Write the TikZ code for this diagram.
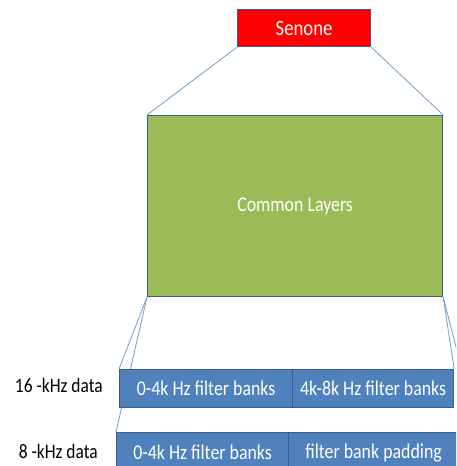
\documentclass[tikz,border=0pt]{standalone}
\usepackage{fontspec}
\setmainfont[FakeStretch=0.85]{Carlito}
\definecolor{senred}{HTML}{FF0000}
\definecolor{comgreen}{HTML}{9BBB59}
\definecolor{rowblue}{HTML}{4F81BD}
\definecolor{edgeblue}{HTML}{385D8A}
\definecolor{linkblue}{HTML}{6F9BD1}
\begin{document}
\begin{tikzpicture}[x=1pt,y=-1pt,
  boxstyle/.style={draw=edgeblue,line width=1.2pt,inner sep=0pt,text=white},
  link/.style={draw=linkblue,line width=0.8pt},
  rowtext/.style={font=\fontsize{21}{22}\selectfont},
  lbl/.style={font=\fontsize{20.5}{22}\selectfont,text=black,anchor=east,inner sep=0pt}]
\useasboundingbox (0,0) rectangle (456,466);
\clip (0,0) rectangle (456,466);
% boxes
\node[boxstyle,fill=senred,minimum width=133pt,minimum height=37pt,font=\fontsize{22}{22}\selectfont,anchor=north west] (sen) at (237,9) {Senone};
\node[boxstyle,fill=comgreen,minimum width=295pt,minimum height=181pt,font=\fontsize{21}{22}\selectfont,anchor=north west] (com) at (147,115) {\raisebox{-5pt}{Common Layers}};
% connectors from common layers (behind rows)
\coordinate (r8tr) at (478,432);
\draw[link] (sen.south west) -- (com.north west);
\draw[link] (sen.south east) -- (com.north east);
\draw[link] (com.south west) -- (116,432) coordinate (r8tl);
\draw[link] (com.south east) -- (r8tr);
% 16 kHz row
\node[boxstyle,fill=rowblue,minimum width=173pt,minimum height=38pt,rowtext,anchor=north west] (a1) at (119,369) {0-4k Hz filter banks};
\node[boxstyle,fill=rowblue,minimum width=161pt,minimum height=38pt,rowtext,anchor=north west] (a2) at (292,369) {4k-8k Hz filter banks};
\draw[link] (com.south west) -- (a1.north west);
\draw[link] (com.south east) -- (a2.north east);
% 8 kHz row
\node[boxstyle,fill=rowblue,minimum width=172pt,minimum height=40pt,rowtext,anchor=north west] (b1) at (116,432) {0-4k Hz filter banks};
\node[boxstyle,fill=rowblue,minimum width=170pt,minimum height=40pt,rowtext,anchor=north west] (b2) at (288,432) {filter bank padding};
% labels
\node[lbl] (l16) at (103,385) {16 -kHz data};
\node[lbl] (l8) at (98,451) {8 -kHz data};
\end{tikzpicture}
\end{document}
